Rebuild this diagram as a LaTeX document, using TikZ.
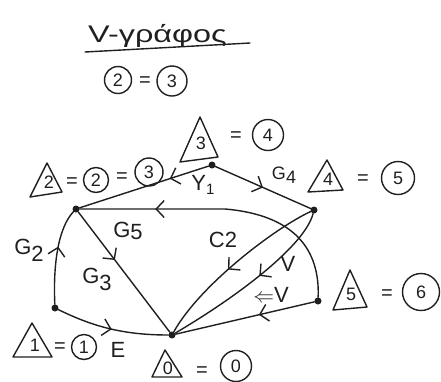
\documentclass[tikz,border=0pt]{standalone}
\usepackage{fontspec}
\setmainfont{Liberation Sans}
\usetikzlibrary{arrows.meta,decorations.markings}
\begin{document}
\begin{tikzpicture}[x=1pt,y=-1pt,
  pen/.style={line width=1.4pt, draw=black!88, line cap=round, line join=round},
  vtx/.style={circle, fill=black!88, inner sep=0pt, minimum size=7pt},
  dedge/.style={pen, postaction={decorate}, decoration={markings, mark=at position #1 with {\arrow{Straight Barb[length=8pt,width=17pt]}}}},
  dedge/.default=0.5,
  lbl/.style={font=\fontsize{22}{22}\selectfont, text=black!88, inner sep=0pt},
  num/.style={font=\fontsize{18}{18}\selectfont, text=black!88, inner sep=0pt},
  circ/.style={num, draw=black!88, line width=1.4pt, circle, minimum size=#1},
  circ/.default=26pt,
  eq/.style={font=\fontsize{20}{20}\selectfont, text=black!88, inner sep=0pt},
]
\useasboundingbox (0,0) rectangle (441,381);

% title
\node[anchor=base west, font=\fontsize{24}{24}\selectfont, text=black!88, inner sep=0pt] (title) at (88,42) {\scalebox{1.35}[1]{V-γράφος}};
\draw[pen] (85,52) -- (250,43);
\node[circ=27pt] (tc2) at (118,80) {2};
\node[eq] (teq) at (145,82) {=};
\node[circ=30pt] (tc3) at (172,81) {3};

% vertices
\node[vtx] (A) at (55,308) {};
\node[vtx] (B) at (76,209) {};
\node[vtx] (C) at (212,165) {};
\node[vtx] (D) at (314,210) {};
\node[vtx] (E) at (318,301) {};
\node[vtx] (O) at (172,335) {};

% edges
\draw[dedge=0.6] (A) .. controls (53,265) and (58,228) .. (B);
\draw[dedge=0.5] (A) .. controls (90,325) and (120,335) .. (O);
\draw[dedge=0.4] (B) -- (O);
\draw[dedge=0.3] (C) -- (B);
\draw[dedge=0.5] (C) -- (D);
\draw[dedge=0.74] (E) .. controls (320,250) and (295,215) .. (225,209) -- (B);
\draw[dedge=0.55] (D) .. controls (275,228) and (200,285) .. (O);
\draw[dedge=0.45] (D) .. controls (305,245) and (240,295) .. (O);
\draw[dedge=0.4] (E) -- (O);

% edge labels
\node[lbl] (g2) at (29,250) {G\raisebox{-7pt}{2}};
\node[lbl] (g3) at (97,279) {G\raisebox{-7pt}{3}};
\node[lbl] (g5) at (128,231) {G\raisebox{-2pt}{5}};
\node[lbl] (y1) at (203,185) {Y\raisebox{-4pt}{\fontsize{15}{15}\selectfont 1}};
\node[lbl, font=\fontsize{18}{18}\selectfont] (g4) at (284,175) {G\raisebox{-4pt}{4}};
\node[lbl] (c2) at (223,240) {C2};
\node[lbl] (eE) at (118,350) {E};
\node[lbl] (v1) at (288,264) {V};
\node[lbl] (v2) at (271,295) {$\Leftarrow$V};

% vertex labels: triangle = circle
\node[num] (t1) at (35,345) {1};
\draw[pen] (32,323) -- (52,357) -- (13,357) -- cycle;
\node[eq] (e1) at (60,348) {=};
\node[circ=25pt] (c1) at (84,347) {1};

\node[num] (t2) at (49,182) {2};
\draw[pen] (47,163) -- (62,192) -- (30,197) -- cycle;
\node[eq] (e2a) at (72,183) {=};
\node[circ=25pt] (c2a) at (96,180) {2};
\node[eq] (e2b) at (122,178) {=};
\node[circ=28pt] (c2b) at (149,172) {3};

\node[num] (t3) at (201,143) {3};
\draw[pen] (200,117) -- (218,157) -- (180,162) -- cycle;
\node[eq] (e3) at (236,137) {=};
\node[circ=31pt] (c3) at (268,135) {4};

\node[num] (t4) at (328,179) {4};
\draw[pen] (327,160) -- (343,190) -- (308,192) -- cycle;
\node[eq] (e4) at (363,180) {=};
\node[circ=33pt] (c4) at (398,178) {5};

\node[num] (t5) at (351,294) {5};
\draw[pen] (350,270) -- (367,307) -- (333,310) -- cycle;
\node[eq] (e5) at (387,295) {=};
\node[circ=37pt] (c5) at (421,292) {6};

\node[num] (t0) at (168,368) {0};
\draw[pen] (165,350) -- (182,377) -- (152,377) -- cycle;
\node[eq] (e0) at (202,372) {=};
\node[circ=31pt] (c0) at (236,366) {0};
\end{tikzpicture}
\end{document}
